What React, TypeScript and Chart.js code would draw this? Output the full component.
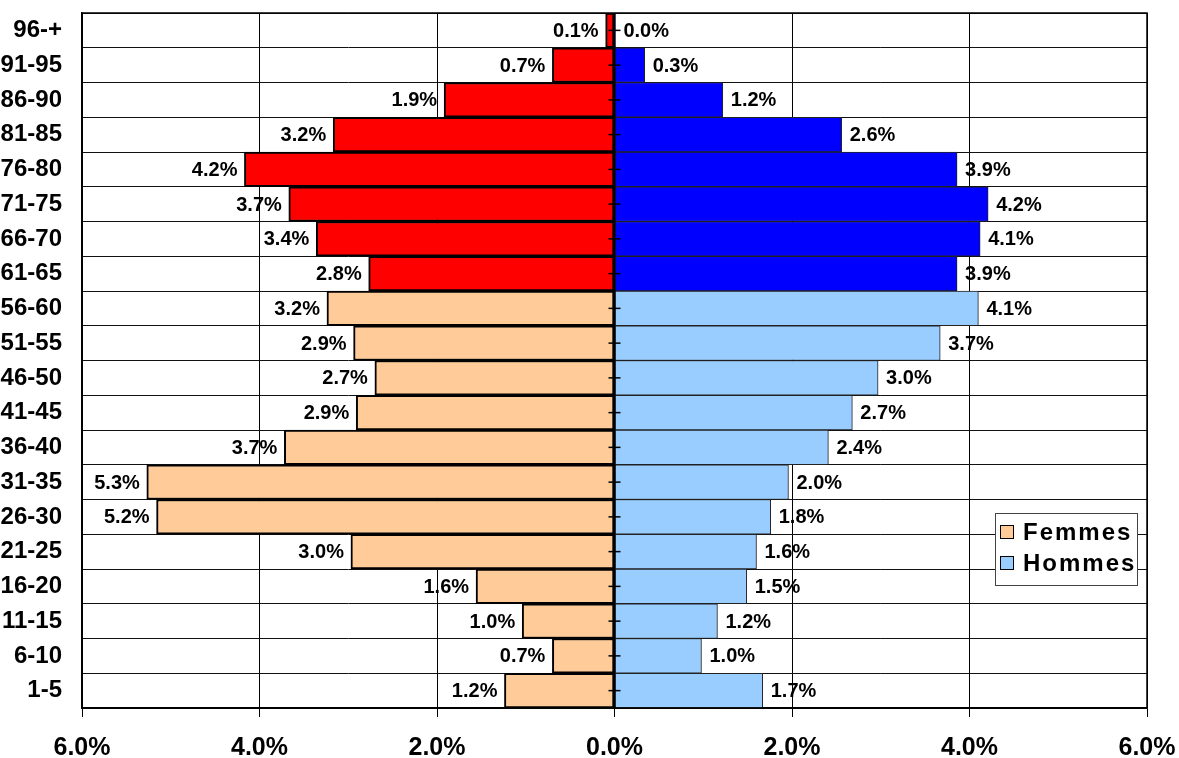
import React, { useEffect, useRef } from "react";
import { Chart, registerables } from "chart.js";

Chart.register(...registerables);

const ageGroups = ["96-+", "91-95", "86-90", "81-85", "76-80", "71-75", "66-70", "61-65", "56-60", "51-55", "46-50", "41-45", "36-40", "31-35", "26-30", "21-25", "16-20", "11-15", "6-10", "1-5"];
const femmes = [0.1, 0.7, 1.92, 3.17, 4.17, 3.67, 3.36, 2.77, 3.24, 2.94, 2.7, 2.91, 3.72, 5.27, 5.16, 2.97, 1.56, 1.04, 0.7, 1.24];
const hommes = [0.01, 0.34, 1.22, 2.56, 3.86, 4.21, 4.12, 3.86, 4.1, 3.67, 2.97, 2.68, 2.41, 1.96, 1.76, 1.6, 1.49, 1.16, 0.98, 1.67];
const xTicks = [-6, -4, -2, 0, 2, 4, 6];
const highlightFromAge = 61;

const FONT = '"Liberation Sans", Arial, sans-serif';

const isHighlighted = ageGroups.map((g) => parseInt(g, 10) >= highlightFromAge);
const femColors = isHighlighted.map((h) => (h ? "#FF0000" : "#FFCC99"));
const homColors = isHighlighted.map((h) => (h ? "#0000FF" : "#99CCFF"));

const overlayPlugin = {
  id: "overlay",
  afterDatasetsDraw(chart: any) {
    const ctx = chart.ctx;
    const area = chart.chartArea;
    const xs = chart.scales.x;
    const ys = chart.scales.y;
    ctx.save();
    // data labels
    ctx.font = `bold 20px ${FONT}`;
    ctx.fillStyle = "#000";
    ctx.textBaseline = "middle";
    chart.data.datasets.forEach((ds: any, di: number) => {
      const meta = chart.getDatasetMeta(di);
      meta.data.forEach((el: any, i: number) => {
        const v = ds.data[i];
        const txt = Math.abs(v).toFixed(1) + "%";
        if (v < 0) {
          ctx.textAlign = "right";
          ctx.fillText(txt, el.x - 7, el.y + 1);
        } else {
          ctx.textAlign = "left";
          ctx.fillText(txt, el.x + 8, el.y + 1);
        }
      });
    });
    // center axis
    const x0 = xs.getPixelForValue(0);
    ctx.strokeStyle = "#000";
    ctx.lineWidth = 2;
    ctx.beginPath();
    ctx.moveTo(x0, area.top);
    ctx.lineTo(x0, area.bottom);
    ctx.stroke();
    ctx.lineWidth = 1.5;
    ageGroups.forEach((_, i) => {
      const y = ys.getPixelForValue(i);
      ctx.beginPath();
      ctx.moveTo(x0 - 6, y);
      ctx.lineTo(x0 + 6, y);
      ctx.stroke();
    });
    // plot border
    ctx.lineWidth = 1.5;
    ctx.strokeRect(area.left, area.top, area.right - area.left, area.bottom - area.top);
    // legend
    const lRight = area.right - 10;
    const lTop = area.top + 500;
    const lW = 142;
    const lH = 72;
    const lLeft = lRight - lW;
    ctx.fillStyle = "#fff";
    ctx.fillRect(lLeft, lTop, lW, lH);
    ctx.strokeStyle = "#444";
    ctx.lineWidth = 1;
    ctx.strokeRect(lLeft + 0.5, lTop + 0.5, lW, lH);
    const entries = [
      { label: chart.data.datasets[0].label, color: femColors[femColors.length - 1] },
      { label: chart.data.datasets[1].label, color: homColors[homColors.length - 1] },
    ];
    ctx.font = `bold 24px ${FONT}`;
    (ctx as any).letterSpacing = "2px";
    ctx.textAlign = "left";
    ctx.textBaseline = "middle";
    entries.forEach((e, i) => {
      const cy = lTop + 19 + i * 31;
      ctx.fillStyle = e.color;
      ctx.fillRect(lLeft + 5, cy - 7, 14, 14);
      ctx.strokeStyle = "#000";
      ctx.lineWidth = 1;
      ctx.strokeRect(lLeft + 5.5, cy - 6.5, 13, 13);
      ctx.fillStyle = "#000";
      ctx.fillText(e.label, lLeft + 28, cy + 1);
    });
    (ctx as any).letterSpacing = "0px";
    ctx.restore();
  },
};

export default function App() {
  const ref = useRef<HTMLCanvasElement | null>(null);
  useEffect(() => {
    document.body.style.margin = "0";
    const canvas = ref.current;
    if (!canvas) return;
    const chart = new Chart(canvas, {
      type: "bar",
      data: {
        labels: ageGroups,
        datasets: [
          {
            label: "Femmes",
            data: femmes.map((v) => -v),
            backgroundColor: femColors,
            borderColor: "#000",
            borderWidth: 2,
            borderSkipped: false,
            barPercentage: 1,
            categoryPercentage: 1,
          },
          {
            label: "Hommes",
            data: hommes,
            backgroundColor: homColors,
            borderColor: "#222",
            borderWidth: 1,
            borderSkipped: false,
            barPercentage: 1,
            categoryPercentage: 1,
          },
        ],
      },
      options: {
        indexAxis: "y",
        responsive: false,
        animation: false,
        layout: { padding: { top: 13, right: 32, left: 0, bottom: 0 } },
        plugins: {
          legend: { display: false },
          tooltip: { enabled: false },
          title: { display: false },
        },
        scales: {
          x: {
            type: "linear",
            stacked: true,
            min: -6,
            max: 6,
            afterBuildTicks: (scale: any) => {
              scale.ticks = xTicks.map((v) => ({ value: v }));
            },
            afterFit: (scale: any) => {
              scale.height = 50;
              scale.paddingLeft = 0;
              scale.paddingRight = 0;
              scale.paddingTop = 0;
              scale.paddingBottom = 0;
            },
            ticks: {
              callback: (v: any) => Math.abs(Number(v)).toFixed(1) + "%",
              font: { family: FONT, size: 25, weight: "bold" },
              color: "#000",
              padding: 16,
              maxRotation: 0,
            },
            grid: { color: "#000", lineWidth: 1, tickLength: 9, drawTicks: true },
            border: { color: "#000", width: 1.5 },
          },
          y: {
            type: "category",
            stacked: true,
            afterFit: (scale: any) => {
              scale.width = 82;
              scale.paddingLeft = 0;
              scale.paddingRight = 0;
              scale.paddingTop = 0;
              scale.paddingBottom = 0;
            },
            ticks: {
              font: { family: FONT, size: 24, weight: "bold" },
              color: "#000",
              padding: 20,
            },
            grid: { color: "#111", lineWidth: 1, drawTicks: false, offset: true },
            border: { color: "#000", width: 1.5 },
          },
        },
      },
      plugins: [overlayPlugin],
    });
    return () => chart.destroy();
  }, []);
  return <canvas ref={ref} width={1179} height={758} style={{ display: "block" }} />;
}
